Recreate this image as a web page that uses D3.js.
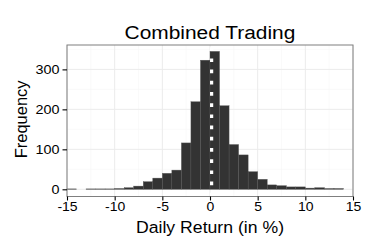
<!DOCTYPE html>
<html>
<head>
<meta charset="utf-8">
<script src="https://cdn.jsdelivr.net/npm/d3@7"></script>
<style>
  body { margin: 0; background: #fff; }
  svg text { font-family: "Liberation Sans", Arial, sans-serif; }
</style>
</head>
<body>
<div id="chart"></div>
<script>
// histogram bins (width 1%), left edges and counts
const binStarts = [-15, -14, -13, -12, -11, -10, -9, -8, -7, -6, -5, -4, -3, -2, -1,
                   0, 1, 2, 3, 4, 5, 6, 7, 8, 9, 10, 11, 12, 13];
const counts = [1, 0, 1, 1, 1, 2, 4, 8, 19, 28, 40, 48, 116, 219, 323,
                345, 209, 112, 86, 44, 25, 11, 9, 6, 6, 3, 4, 2, 2];
const binWidth = 1;
const meanReturn = 0.17;
const xTicks = [-15, -10, -5, 0, 5, 10, 15];
const xMinor = [-12.5, -7.5, -2.5, 2.5, 7.5, 12.5];
const yTicks = [0, 100, 200, 300];
const yMinor = [50, 150, 250, 350];

const width = 373, height = 249;
const margin = {top: 45, right: 20, bottom: 52.5, left: 67};
const innerW = width - margin.left - margin.right;
const innerH = height - margin.top - margin.bottom;

const svg = d3.select("#chart").append("svg")
    .attr("width", width)
    .attr("height", height);

const g = svg.append("g")
    .attr("transform", `translate(${margin.left}, ${margin.top})`);

const x = d3.scaleLinear().domain([-15, 15]).range([0, innerW]);
const y = d3.scaleLinear().domain([-18, 361]).range([innerH, 0]);

// grid
g.selectAll(".minor-x").data(xMinor).enter().append("line")
    .attr("x1", d => x(d)).attr("x2", d => x(d))
    .attr("y1", 0).attr("y2", innerH)
    .attr("stroke", "#f7f7f7").attr("stroke-width", 0.6);
g.selectAll(".minor-y").data(yMinor).enter().append("line")
    .attr("x1", 0).attr("x2", innerW)
    .attr("y1", d => y(d)).attr("y2", d => y(d))
    .attr("stroke", "#f7f7f7").attr("stroke-width", 0.6);
g.selectAll(".major-x").data(xTicks).enter().append("line")
    .attr("x1", d => x(d)).attr("x2", d => x(d))
    .attr("y1", 0).attr("y2", innerH)
    .attr("stroke", "#ebebeb").attr("stroke-width", 1);
g.selectAll(".major-y").data(yTicks).enter().append("line")
    .attr("x1", 0).attr("x2", innerW)
    .attr("y1", d => y(d)).attr("y2", d => y(d))
    .attr("stroke", "#ebebeb").attr("stroke-width", 1);

// bars
g.selectAll(".bar")
    .data(binStarts.map((s, i) => ({start: s, count: counts[i]})))
    .enter().append("rect")
    .attr("class", "bar")
    .attr("x", d => x(d.start))
    .attr("y", d => y(d.count))
    .attr("width", d => x(d.start + binWidth) - x(d.start))
    .attr("height", d => y(0) - y(d.count))
    .attr("fill", "#333333")
    .attr("stroke", "#555555")
    .attr("stroke-width", 0.4);

// mean line
g.append("line")
    .attr("x1", x(meanReturn)).attr("x2", x(meanReturn))
    .attr("y1", innerH).attr("y2", 0)
    .attr("stroke", "#ffffff")
    .attr("stroke-width", 3.2)
    .attr("stroke-dasharray", "3.7,7.5");

// panel border
g.append("rect")
    .attr("x", 0).attr("y", 0)
    .attr("width", innerW).attr("height", innerH)
    .attr("fill", "none")
    .attr("stroke", "#7f7f7f")
    .attr("stroke-width", 1);

// axes
const xAxis = g.append("g")
    .attr("transform", `translate(0, ${innerH})`)
    .call(d3.axisBottom(x).tickValues(xTicks).tickSize(4).tickPadding(2).tickFormat(d3.format("d")));
const yAxis = g.append("g")
    .call(d3.axisLeft(y).tickValues(yTicks).tickSize(4.5).tickPadding(3));

[xAxis, yAxis].forEach(a => {
    a.select(".domain").remove();
    a.selectAll(".tick line").attr("stroke", "#000").attr("stroke-width", 1.1);
    a.selectAll(".tick text")
        .style("font-size", "12.5px")
        .style("fill", "#000")
        .style("font-family", "'Liberation Sans', Arial, sans-serif");
});
xAxis.selectAll(".tick text")
    .text(d => d < 0 ? "-" + Math.abs(d) : d)
    .attr("transform", "scale(1.12,1)");
yAxis.selectAll(".tick text")
    .attr("x", null)
    .attr("transform", "translate(-7.5,0) scale(1.15,1)");

// titles
svg.append("text")
    .attr("transform", `translate(${margin.left + innerW / 2}, 39) scale(1.1,1)`)
    .attr("text-anchor", "middle")
    .style("font-size", "19px")
    .text("Combined Trading");

svg.append("text")
    .attr("transform", `translate(${margin.left + innerW / 2}, 233) scale(1.07,1)`)
    .attr("text-anchor", "middle")
    .style("font-size", "16.5px")
    .text("Daily Return (in %)");

svg.append("text")
    .attr("transform", `translate(27, ${margin.top + y(175)}) rotate(-90)`)
    .attr("text-anchor", "middle")
    .style("font-size", "16.5px")
    .text("Frequency");
</script>
</body>
</html>
